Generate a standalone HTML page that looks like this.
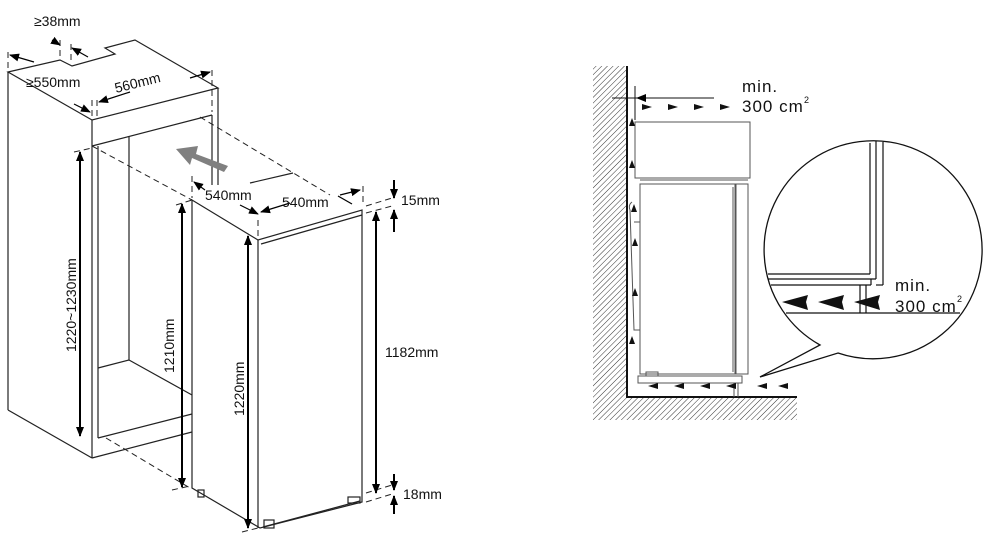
<!DOCTYPE html>
<html><head><meta charset="utf-8"><style>
html,body{margin:0;padding:0;background:#fff;}
svg{display:block;}
text{font-family:"Liberation Sans",Arial,sans-serif;fill:#111;}
</style></head><body>
<svg width="993" height="547" viewBox="0 0 993 547" xmlns="http://www.w3.org/2000/svg">
<defs>
<marker id="ah" markerWidth="10" markerHeight="10" refX="9" refY="5" orient="auto" markerUnits="userSpaceOnUse">
<path d="M0,1 L10,5 L0,9 Z" fill="#000"/></marker>
<pattern id="hat" width="4" height="4" patternUnits="userSpaceOnUse" patternTransform="rotate(45)">
<line x1="0" y1="0" x2="0" y2="4" stroke="#333" stroke-width="1"/></pattern>
</defs>
<g stroke="#222" stroke-width="1.2" fill="none">
<path d="M8,72 L60,60 L72,66 L115,54 L105,48 L135,40 L218,88 L92,120 Z" fill="#fff"/>
<line x1="8" y1="72" x2="8" y2="410"/>
<line x1="8" y1="410" x2="92" y2="458"/>
<line x1="92" y1="120" x2="92" y2="458"/>
<line x1="98" y1="146" x2="98" y2="438"/>
<line x1="92" y1="146" x2="212" y2="115"/>
<line x1="218" y1="88" x2="218" y2="185"/>
<line x1="212" y1="115" x2="212" y2="185"/>
<line x1="129" y1="137" x2="129" y2="360"/>
<line x1="98" y1="368" x2="129" y2="360"/>
<line x1="129" y1="360" x2="192" y2="395"/>
<line x1="98" y1="438" x2="192" y2="414"/>
<line x1="92" y1="458" x2="192" y2="432"/>
<g stroke-dasharray="6,4" stroke-width="1">
<line x1="92" y1="146" x2="192" y2="200"/>
<line x1="200" y1="117" x2="330" y2="195"/>
<line x1="106" y1="438" x2="190" y2="488"/>
<line x1="8" y1="52" x2="8" y2="70"/>
<line x1="60" y1="40" x2="60" y2="58"/>
<line x1="71" y1="44" x2="71" y2="64"/>
<line x1="92" y1="100" x2="92" y2="118"/>
<line x1="97" y1="100" x2="97" y2="118"/>
<line x1="212" y1="70" x2="212" y2="112"/>
<line x1="192" y1="176" x2="192" y2="198"/>
<line x1="258" y1="220" x2="258" y2="238"/>
<line x1="363" y1="186" x2="363" y2="206"/>
<line x1="366" y1="206" x2="392" y2="198"/>
<line x1="366" y1="213" x2="392" y2="206"/>
<line x1="366" y1="493" x2="392" y2="485"/>
<line x1="366" y1="502" x2="392" y2="494"/>
<line x1="74" y1="152" x2="92" y2="148"/>
<line x1="176" y1="205" x2="192" y2="200"/>
<line x1="172" y1="490" x2="190" y2="486"/>
<line x1="242" y1="532" x2="258" y2="528"/>
</g>
<path d="M192,200 L258,240 L362,210 L362,502 L260,528 L192,488 Z" fill="#fff"/>
<line x1="258" y1="240" x2="258" y2="528"/>
<line x1="261" y1="244" x2="362" y2="215"/>
<line x1="263" y1="527" x2="360" y2="501"/>
<rect x="198" y="490" width="6" height="7"/>
<rect x="264" y="520" width="10" height="8"/>
<rect x="348" y="497" width="12" height="6"/>
<line x1="250" y1="183" x2="293" y2="173"/>
</g>
<g stroke="#000" stroke-width="2" fill="none">
<line x1="80" y1="160" x2="80" y2="436" marker-end="url(#ah)"/>
<line x1="80" y1="430" x2="80" y2="152" marker-end="url(#ah)"/>
<line x1="182" y1="215" x2="182" y2="487" marker-end="url(#ah)"/>
<line x1="182" y1="480" x2="182" y2="204" marker-end="url(#ah)"/>
<line x1="248" y1="245" x2="248" y2="528" marker-end="url(#ah)"/>
<line x1="248" y1="520" x2="248" y2="236" marker-end="url(#ah)"/>
<line x1="376" y1="222" x2="376" y2="493" marker-end="url(#ah)"/>
<line x1="376" y1="485" x2="376" y2="212" marker-end="url(#ah)"/>
<line x1="394" y1="180" x2="394" y2="198" marker-end="url(#ah)"/>
<line x1="394" y1="232" x2="394" y2="210" marker-end="url(#ah)"/>
<line x1="394" y1="474" x2="394" y2="490" marker-end="url(#ah)"/>
<line x1="394" y1="514" x2="394" y2="496" marker-end="url(#ah)"/>
</g>
<g stroke="#000" stroke-width="1.2" fill="none">
<line x1="34" y1="62" x2="10" y2="55" marker-end="url(#ah)"/>
<line x1="74" y1="104" x2="90" y2="112" marker-end="url(#ah)"/>
<line x1="52" y1="40" x2="60" y2="45" marker-end="url(#ah)"/>
<line x1="88" y1="57" x2="72" y2="48" marker-end="url(#ah)"/>
<line x1="130" y1="92" x2="99" y2="102" marker-end="url(#ah)"/>
<line x1="190" y1="78" x2="210" y2="72" marker-end="url(#ah)"/>
<line x1="205" y1="190" x2="194" y2="182" marker-end="url(#ah)"/>
<line x1="240" y1="205" x2="258" y2="214" marker-end="url(#ah)"/>
<line x1="290" y1="203" x2="261" y2="212" marker-end="url(#ah)"/>
<line x1="340" y1="195" x2="360" y2="190" marker-end="url(#ah)"/>
<line x1="338" y1="196" x2="352" y2="204"/>
</g>
<polygon points="228,166 196,154 198,146 176,149 190,165 192,158 224,172" fill="#808080"/>
<g font-size="14">
<text x="34" y="26">≥38mm</text>
<text x="26" y="87">≥550mm</text>
<text x="116" y="93" transform="rotate(-14 116 93)">560mm</text>
<text x="205" y="200">540mm</text>
<text x="282" y="207">540mm</text>
<text x="401" y="205">15mm</text>
<text x="385" y="357">1182mm</text>
<text x="403" y="499">18mm</text>
<text transform="translate(76,352) rotate(-90)">1220~1230mm</text>
<text transform="translate(174,373) rotate(-90)">1210mm</text>
<text transform="translate(244,416) rotate(-90)">1220mm</text>
</g>
<rect x="593" y="66" width="34" height="354" fill="url(#hat)"/>
<rect x="627" y="398" width="170" height="22" fill="url(#hat)"/>
<g stroke="#111" fill="none">
<line x1="627" y1="66" x2="627" y2="398" stroke-width="2"/>
<line x1="627" y1="397" x2="797" y2="397" stroke-width="2"/>
<g stroke-width="1" stroke="#555">
<rect x="635" y="122" width="115" height="56"/>
<line x1="640" y1="180" x2="748" y2="180"/>
<rect x="640" y="184" width="95" height="190"/>
<rect x="736" y="184" width="12" height="190"/>
<line x1="733" y1="187" x2="733" y2="372"/>
<rect x="638" y="376" width="104" height="7"/>
<rect x="646" y="372" width="12" height="4"/>
<path d="M632,202 Q628,205 630,210 L634,330 L640,330"/>
<line x1="640" y1="222" x2="634" y2="222"/>
<line x1="734" y1="383" x2="734" y2="397"/>
<line x1="738" y1="383" x2="738" y2="397"/>
</g>
<line x1="612" y1="98" x2="714" y2="98" stroke-width="1"/>
<line x1="635" y1="86" x2="635" y2="120" stroke-width="1"/>
<line x1="660" y1="98" x2="637" y2="98" marker-end="url(#ah)" stroke-width="1"/>
</g>
<g fill="#111">
<polygon points="642,104 652,107 642,110"/><polygon points="668,104 678,107 668,110"/>
<polygon points="694,104 704,107 694,110"/><polygon points="720,104 730,107 720,110"/>
<polygon points="629,126 632,118 635,126"/><polygon points="629,168 632,160 635,168"/>
<polygon points="631,212 634,204 637,212"/><polygon points="632,246 635,238 638,246"/>
<polygon points="632,296 635,288 638,296"/><polygon points="629,344 632,336 635,344"/>
<polygon points="648,386 658,383 658,389"/><polygon points="674,386 684,383 684,389"/>
<polygon points="700,386 710,383 710,389"/><polygon points="726,386 736,383 736,389"/>
<polygon points="757,386 767,383 767,389"/><polygon points="778,386 788,383 788,389"/>
</g>
<g font-size="17" letter-spacing="1">
<text x="742" y="92">min.</text>
<text x="742" y="112">300 cm</text>
<text x="804" y="103" font-size="9">2</text>
</g>
<path d="M820,345 A109,109 0 1 1 838,353 L760,377 Z" fill="#fff" stroke="#111" stroke-width="1.3"/>
<g stroke="#111" stroke-width="1.2" fill="none">
<line x1="870" y1="143" x2="870" y2="274"/>
<line x1="876" y1="141" x2="876" y2="279"/>
<line x1="883" y1="142" x2="883" y2="285"/>
<line x1="876" y1="285" x2="883" y2="285"/>
<line x1="768" y1="274" x2="870" y2="274"/>
<line x1="768" y1="279" x2="876" y2="279"/>
<line x1="771" y1="285" x2="871" y2="285"/>
<line x1="871" y1="279" x2="871" y2="285"/>
<line x1="860" y1="285" x2="860" y2="313"/>
<line x1="866" y1="285" x2="866" y2="313"/>
<line x1="786" y1="313" x2="960" y2="313"/>
</g>
<g fill="#111">
<polygon points="782,302 808,295 806,302 808,310"/>
<polygon points="818,302 844,295 842,302 844,310"/>
<polygon points="854,302 880,295 878,302 880,310"/>
</g>
<g font-size="17" letter-spacing="1">
<text x="895" y="291">min.</text>
<text x="895" y="312">300 cm</text>
<text x="957" y="302" font-size="9">2</text>
</g>
</svg>
</body></html>
